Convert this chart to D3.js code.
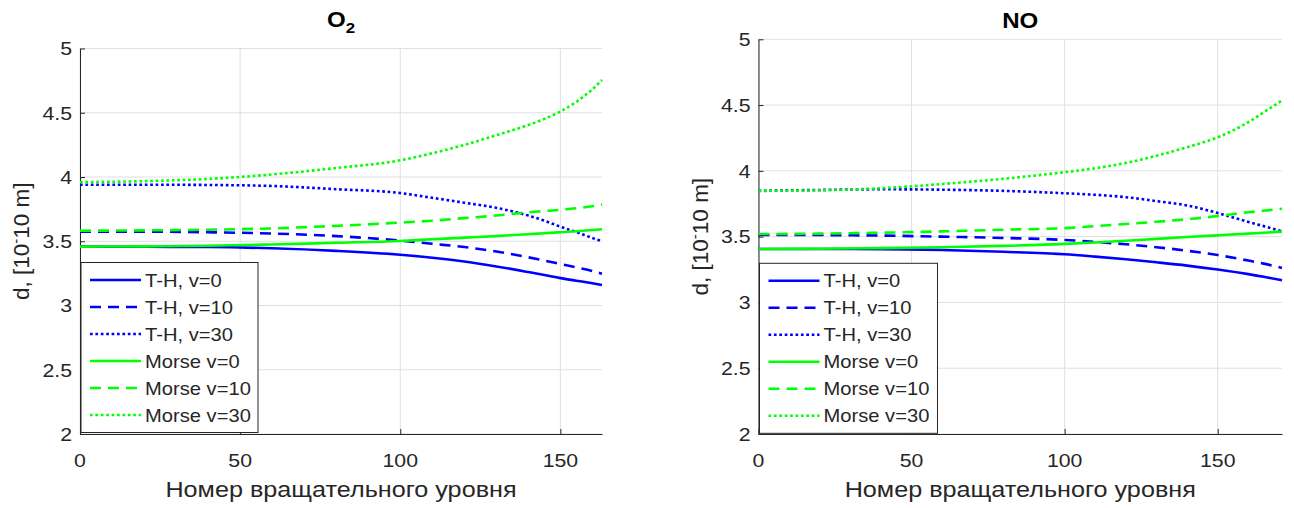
<!DOCTYPE html>
<html><head><meta charset="utf-8">
<script src="https://cdn.jsdelivr.net/npm/d3@7"></script>
<style>body{margin:0;background:#fff}</style>
</head><body><svg id="c" width="1294" height="508"></svg>
<script>
// ---------- data ----------
const seriesNames = ["T-H, v=0","T-H, v=10","T-H, v=30","Morse v=0","Morse v=10","Morse v=30"];
const yTicks = [2,2.5,3,3.5,4,4.5,5];
const yTickLabels = ["2","2.5","3","3.5","4","4.5","5"];
const xTicks = [0,50,100,150];
const xTickLabels = ["0","50","100","150"];

const o2X        = [0,20,40,60,80,100,110,120,130,140,145,150,155,160,163];
const o2_TH_v0   = [3.458,3.457,3.455,3.445,3.425,3.395,3.372,3.342,3.304,3.260,3.237,3.213,3.193,3.173,3.160];
const o2_TH_v10  = [3.575,3.575,3.570,3.560,3.540,3.505,3.480,3.455,3.420,3.375,3.350,3.323,3.296,3.268,3.247];
const o2_TH_v30  = [3.940,3.940,3.938,3.930,3.905,3.875,3.838,3.800,3.760,3.700,3.660,3.613,3.572,3.525,3.500];
const o2_M_v0    = [3.458,3.460,3.465,3.475,3.488,3.502,3.515,3.528,3.540,3.555,3.562,3.570,3.578,3.587,3.593];
const o2_M_v10   = [3.582,3.585,3.590,3.600,3.620,3.645,3.660,3.680,3.700,3.725,3.735,3.745,3.757,3.772,3.785];
const o2_M_v30   = [3.960,3.968,3.985,4.020,4.070,4.130,4.185,4.250,4.325,4.405,4.452,4.510,4.585,4.683,4.755];

const noX        = [0,20,40,60,80,100,110,120,130,140,150,160,165,171];
const no_TH_v0   = [3.406,3.406,3.405,3.398,3.385,3.366,3.348,3.328,3.305,3.280,3.250,3.215,3.195,3.168];
const no_TH_v10  = [3.512,3.512,3.508,3.500,3.490,3.475,3.460,3.442,3.420,3.393,3.360,3.318,3.295,3.262];
const no_TH_v30  = [3.848,3.855,3.860,3.857,3.848,3.830,3.818,3.800,3.770,3.737,3.680,3.612,3.580,3.540];
const no_M_v0    = [3.406,3.408,3.413,3.420,3.430,3.445,3.456,3.469,3.483,3.497,3.510,3.523,3.530,3.538];
const no_M_v10   = [3.520,3.523,3.530,3.540,3.553,3.565,3.580,3.596,3.613,3.632,3.657,3.685,3.697,3.712];
const no_M_v30   = [3.848,3.852,3.868,3.900,3.940,3.990,4.020,4.060,4.115,4.180,4.255,4.370,4.445,4.535];

// ---------- styles ----------
const colors = ["#0000ff","#0000ff","#0000ff","#00ff00","#00ff00","#00ff00"];
const dashes = [null,"11,7","2.7,2.7",null,"11,7","2.7,2.7"];
const SX = 1.12; // horizontal text stretch
const FONT = "'Liberation Sans', Arial, Helvetica, sans-serif";
const AX = "#262626";

const panels = [
  {title:"O", sub:"2", xs:o2X, ys:[o2_TH_v0,o2_TH_v10,o2_TH_v30,o2_M_v0,o2_M_v10,o2_M_v30],
   xMax:163, L:80, R:602, T:48.5, B:434, titleY:27, ylabX:29,
   leg:{x:81, y:262.5, w:177, h:170}},
  {title:"NO", sub:null, xs:noX, ys:[no_TH_v0,no_TH_v10,no_TH_v30,no_M_v0,no_M_v10,no_M_v30],
   xMax:171, L:758.5, R:1282, T:39.3, B:434, titleY:28, ylabX:708,
   leg:{x:759.5, y:263.3, w:178, h:170}}
];

const svg = d3.select("#c");

function sText(g, x, y, str, size, anchor, opts={}) {
  const t = g.append("text")
    .attr("transform", `translate(${x},${y}) scale(${SX},1)`)
    .attr("font-family", FONT).attr("font-size", size)
    .attr("text-anchor", anchor).attr("fill", opts.fill || AX)
    .attr("font-weight", opts.bold ? "bold" : "normal");
  if (str !== null) t.text(str);
  return t;
}

panels.forEach(p => {
  const g = svg.append("g");
  const x = d3.scaleLinear().domain([0, p.xMax]).range([p.L, p.R]);
  const y = d3.scaleLinear().domain([2, 5]).range([p.B, p.T]);

  // grid
  g.append("g").selectAll("line").data(yTicks).join("line")
    .attr("x1", p.L).attr("x2", p.R).attr("y1", d => y(d)).attr("y2", d => y(d))
    .attr("stroke", "#dfdfdf").attr("stroke-width", 1);
  g.append("g").selectAll("line").data(xTicks).join("line")
    .attr("x1", d => x(d)).attr("x2", d => x(d)).attr("y1", p.T).attr("y2", p.B)
    .attr("stroke", "#dfdfdf").attr("stroke-width", 1);

  // axes (inward ticks)
  g.append("g").attr("transform", `translate(${p.L},0)`)
    .call(d3.axisLeft(y).tickValues(yTicks).tickSizeInner(-5).tickSizeOuter(0).tickFormat(""))
    .call(s => s.selectAll("path,line").attr("stroke", AX));
  g.append("g").attr("transform", `translate(0,${p.B})`)
    .call(d3.axisBottom(x).tickValues(xTicks).tickSizeInner(-5).tickSizeOuter(0).tickFormat(""))
    .call(s => s.selectAll("path,line").attr("stroke", AX));

  // tick labels
  yTicks.forEach((v, i) => sText(g, p.L - 8, y(v) + 6.8, yTickLabels[i], 19, "end"));
  xTicks.forEach((v, i) => sText(g, x(v), 467, xTickLabels[i], 19, "middle"));

  // x label
  sText(g, (p.L + p.R) / 2, 497, "Номер вращательного уровня", 22.5, "middle");

  // y label
  const yl = g.append("text")
    .attr("transform", `translate(${p.ylabX},${(p.T + p.B) / 2}) rotate(-90)`)
    .attr("font-family", FONT).attr("font-size", 22.5).attr("fill", AX)
    .attr("text-anchor", "middle");
  yl.append("tspan").text("d, [10");
  yl.append("tspan").attr("dy", -8).attr("font-size", 15).text("-");
  yl.append("tspan").attr("dy", 8).text("10 m]");

  // title
  const tt = sText(g, (p.L + p.R) / 2, p.titleY, null, 21.5, "middle", {bold:true, fill:"#000"});
  tt.append("tspan").text(p.title);
  if (p.sub) tt.append("tspan").attr("dy", 6).attr("font-size", 15).text(p.sub);

  // curves
  const line = d3.line().x(d => x(d[0])).y(d => y(d[1])).curve(d3.curveMonotoneX);
  p.ys.forEach((vals, i) => {
    const pts = p.xs.map((xv, j) => [xv, vals[j]]);
    g.append("path").datum(pts).attr("d", line)
      .attr("fill", "none").attr("stroke", colors[i]).attr("stroke-width", 2.6)
      .attr("stroke-dasharray", dashes[i]);
  });

  // legend
  const lg = g.append("g");
  lg.append("rect").attr("x", p.leg.x).attr("y", p.leg.y).attr("width", p.leg.w).attr("height", p.leg.h)
    .attr("fill", "#fff").attr("stroke", AX).attr("stroke-width", 1);
  const rowH = (p.leg.h - 35) / 5;
  seriesNames.forEach((nm, i) => {
    const cy = p.leg.y + 17.5 + i * rowH;
    lg.append("line").attr("x1", p.leg.x + 9).attr("x2", p.leg.x + 60)
      .attr("y1", cy).attr("y2", cy)
      .attr("stroke", colors[i]).attr("stroke-width", 2.6).attr("stroke-dasharray", dashes[i]);
    sText(lg, p.leg.x + 64, cy + 6.5, nm, 18, "start");
  });
});
</script>
</body></html>
